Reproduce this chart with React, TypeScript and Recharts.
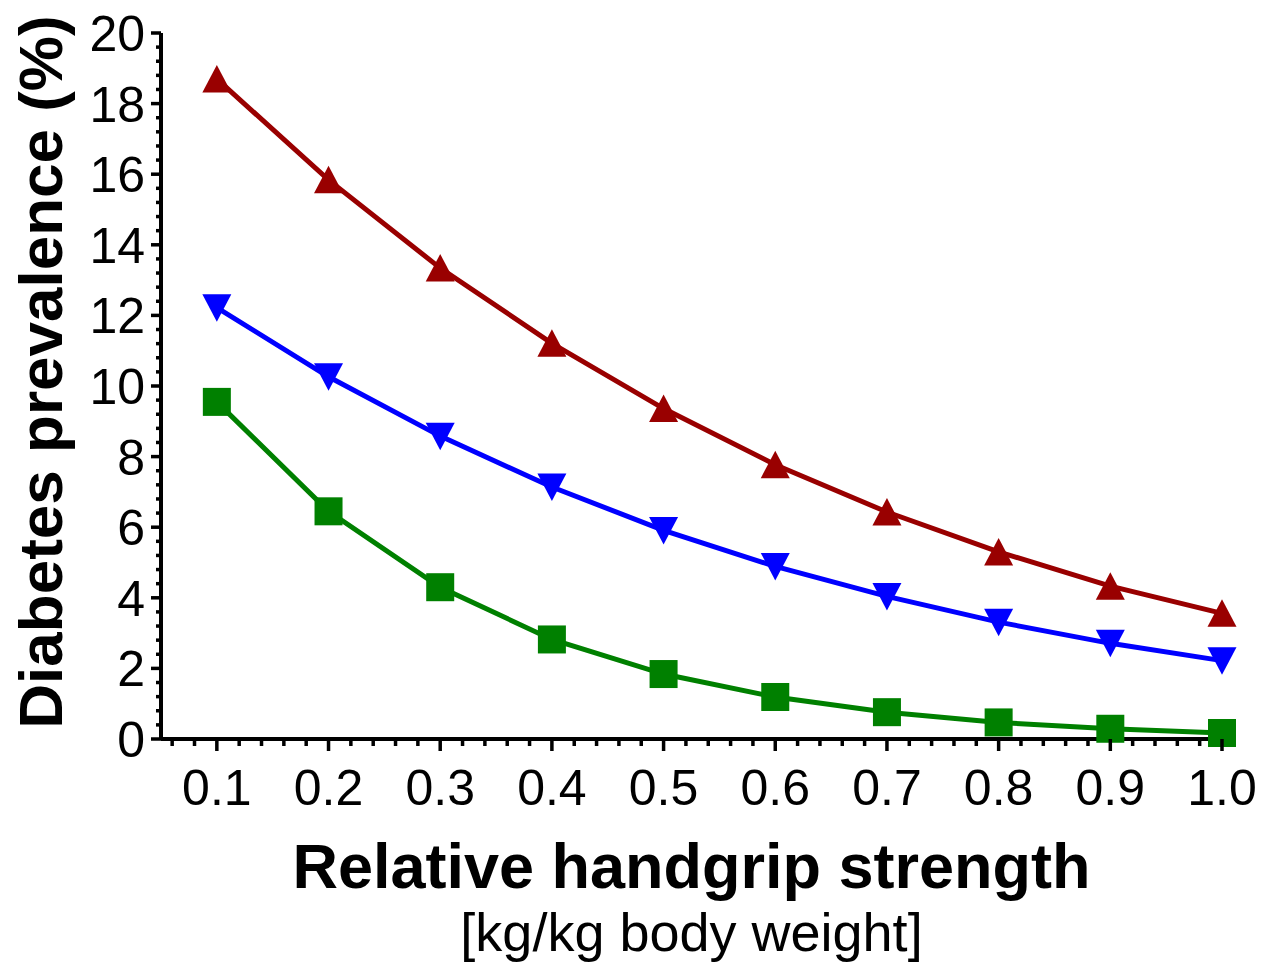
import React from 'react';
import { LineChart, Line, XAxis, YAxis, Label } from 'recharts';

// relative handgrip strength (kg/kg body weight)
const strength = [0.1, 0.2, 0.3, 0.4, 0.5, 0.6, 0.7, 0.8, 0.9, 1.0];

// diabetes prevalence (%) per curve
const redSeries = [18.7, 15.84, 13.34, 11.21, 9.36, 7.77, 6.43, 5.3, 4.33, 3.56];
const blueSeries = [12.22, 10.26, 8.58, 7.14, 5.91, 4.89, 4.04, 3.31, 2.71, 2.22];
const greenSeries = [9.55, 6.45, 4.3, 2.82, 1.84, 1.19, 0.76, 0.47, 0.29, 0.17];

const xMajorTicks = [0.1, 0.2, 0.3, 0.4, 0.5, 0.6, 0.7, 0.8, 0.9, 1.0];
const xMinorTicks = [
  0.06, 0.08, 0.12, 0.14, 0.16, 0.18, 0.22, 0.24, 0.26, 0.28, 0.32, 0.34, 0.36, 0.38,
  0.42, 0.44, 0.46, 0.48, 0.52, 0.54, 0.56, 0.58, 0.62, 0.64, 0.66, 0.68, 0.72, 0.74,
  0.76, 0.78, 0.82, 0.84, 0.86, 0.88, 0.92, 0.94, 0.96, 0.98,
];
const yMajorTicks = [0, 2, 4, 6, 8, 10, 12, 14, 16, 18, 20];
const yMinorTicks = [
  0.4, 0.8, 1.2, 1.6, 2.4, 2.8, 3.2, 3.6, 4.4, 4.8, 5.2, 5.6, 6.4, 6.8, 7.2, 7.6,
  8.4, 8.8, 9.2, 9.6, 10.4, 10.8, 11.2, 11.6, 12.4, 12.8, 13.2, 13.6, 14.4, 14.8,
  15.2, 15.6, 16.4, 16.8, 17.2, 17.6, 18.4, 18.8, 19.2, 19.6,
];

const data = strength.map((s, i) => ({
  s,
  red: redSeries[i],
  blue: blueSeries[i],
  green: greenSeries[i],
}));

const FONT = '"Liberation Sans", Arial, Helvetica, sans-serif';
const RED = '#990000';
const BLUE = '#0000ff';
const GREEN = '#008000';

const isMajor = (list: number[], v: number) => list.some((t) => Math.abs(t - v) < 1e-6);

const XTick = (props: any) => {
  const { x, y, payload } = props;
  const major = isMajor(xMajorTicks, payload.value);
  return (
    <g>
      <line x1={x} x2={x} y1={y} y2={y + (major ? 12 : 7)} stroke="#000" strokeWidth={3.5} />
      {major && (
        <text x={x} y={y + 66} textAnchor="middle" fontSize={50} fontFamily={FONT} fill="#000">
          {payload.value.toFixed(1)}
        </text>
      )}
    </g>
  );
};

const YTick = (props: any) => {
  const { x, y, payload } = props;
  const major = isMajor(yMajorTicks, payload.value);
  return (
    <g>
      <line x1={x} x2={x - (major ? 10 : 5)} y1={y} y2={y} stroke="#000" strokeWidth={3.5} />
      {major && (
        <text x={x - 16} y={y + 18} textAnchor="end" fontSize={50} fontFamily={FONT} fill="#000">
          {payload.value}
        </text>
      )}
    </g>
  );
};

const TriangleUp = (props: any) => {
  const { cx, cy } = props;
  if (cx == null || cy == null) return null;
  return (
    <polygon
      points={`${cx},${cy - 14} ${cx - 14.5},${cy + 13.5} ${cx + 14.5},${cy + 13.5}`}
      fill={RED}
    />
  );
};

const TriangleDown = (props: any) => {
  const { cx, cy } = props;
  if (cx == null || cy == null) return null;
  return (
    <polygon
      points={`${cx - 14.5},${cy - 13.5} ${cx + 14.5},${cy - 13.5} ${cx},${cy + 14}`}
      fill={BLUE}
    />
  );
};

const Square = (props: any) => {
  const { cx, cy } = props;
  if (cx == null || cy == null) return null;
  return <rect x={cx - 14} y={cy - 14} width={28} height={28} fill={GREEN} />;
};

const XTitle = (props: any) => {
  const { x, y, width } = props.viewBox;
  const cx = x + width / 2;
  return (
    <g fontFamily={FONT} fill="#000">
      <text x={cx} y={y + 149} textAnchor="middle" fontSize={63} fontWeight="bold">
        Relative handgrip strength
      </text>
      <text x={cx} y={y + 212} textAnchor="middle" fontSize={54}>
        [kg/kg body weight]
      </text>
    </g>
  );
};

const YTitle = (props: any) => {
  const { y, height } = props.viewBox;
  const cx = 62;
  const cy = y + height / 2 - 14;
  return (
    <text
      x={cx}
      y={cy}
      transform={`rotate(-90, ${cx}, ${cy})`}
      textAnchor="middle"
      fontSize={62}
      fontWeight="bold"
      fontFamily={FONT}
      fill="#000"
    >
      Diabetes prevalence (%)
    </text>
  );
};

export default function App() {
  return (
    <div style={{ position: 'absolute', left: 0, top: 0, width: 1280, height: 967, background: '#fff' }}>
      <LineChart width={1280} height={967} data={data} margin={{ top: 33, right: 58, left: 0, bottom: 0 }}>
        <XAxis
          dataKey="s"
          type="number"
          domain={[0.05, 1.0]}
          ticks={[...xMinorTicks, ...xMajorTicks].sort((a, b) => a - b)}
          interval={0}
          height={228}
          tickSize={0}
          tickMargin={0}
          tickLine={false}
          tick={<XTick />}
          axisLine={{ stroke: '#000', strokeWidth: 4 }}
        >
          <Label content={<XTitle />} />
        </XAxis>
        <YAxis
          type="number"
          domain={[0, 20]}
          ticks={[...yMinorTicks, ...yMajorTicks].sort((a, b) => a - b)}
          interval={0}
          width={161}
          tickSize={0}
          tickMargin={0}
          tickLine={false}
          tick={<YTick />}
          axisLine={{ stroke: '#000', strokeWidth: 4 }}
        >
          <Label content={<YTitle />} />
        </YAxis>
        <Line
          dataKey="green"
          type="linear"
          stroke={GREEN}
          strokeWidth={5}
          dot={<Square />}
          activeDot={false}
          isAnimationActive={false}
        />
        <Line
          dataKey="blue"
          type="linear"
          stroke={BLUE}
          strokeWidth={5}
          dot={<TriangleDown />}
          activeDot={false}
          isAnimationActive={false}
        />
        <Line
          dataKey="red"
          type="linear"
          stroke={RED}
          strokeWidth={5}
          dot={<TriangleUp />}
          activeDot={false}
          isAnimationActive={false}
        />
      </LineChart>
    </div>
  );
}
